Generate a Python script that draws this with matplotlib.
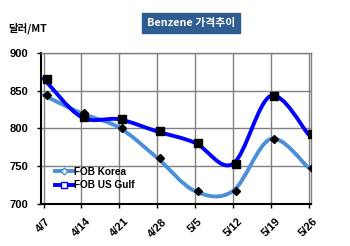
import matplotlib
matplotlib.use("Agg")
import matplotlib.pyplot as plt
from matplotlib.path import Path
from matplotlib.patches import PathPatch
from matplotlib.lines import Line2D
from matplotlib.font_manager import FontProperties, fontManager
import matplotlib.transforms as mtrans
import numpy as np

dates = ["4/7", "4/14", "4/21", "4/28", "5/5", "5/12", "5/19", "5/26"]
fob_korea = [844, 820, 801, 761, 717, 717, 786, 748]
fob_usgulf = [866, 815, 812, 796, 781, 753, 843, 792]
yticks = [700, 750, 800, 850, 900]

KOREA_C = "#4A90D9"
GULF_C = "#0000FF"

_bold_file = None
for f in fontManager.ttflist:
    if f.name == "Liberation Sans" and "Narrow" not in f.fname and "Bold" in f.fname and "Italic" not in f.fname:
        _bold_file = f.fname
        break


def fp(size):
    if _bold_file:
        return FontProperties(fname=_bold_file, size=size)
    return FontProperties(family="DejaVu Sans", weight="bold", size=size)


fig = plt.figure(figsize=(3.5, 2.46), dpi=100)
ax = fig.add_axes([0.117, 0.171, 0.772, 0.614])

x = np.arange(len(dates), dtype=float)


def smooth_path(xs, ys):
    pts = np.column_stack([xs, ys]).astype(float)
    n = len(pts)
    verts = [pts[0]]
    codes = [Path.MOVETO]
    for i in range(n - 1):
        p0 = pts[max(i - 1, 0)]
        p1 = pts[i]
        p2 = pts[i + 1]
        p3 = pts[min(i + 2, n - 1)]
        c1 = p1 + (p2 - p0) / 6.0
        c2 = p2 - (p3 - p1) / 6.0
        verts += [c1, c2, p2]
        codes += [Path.CURVE4] * 3
    return Path(verts, codes)


ax.add_patch(PathPatch(smooth_path(x, fob_korea), fill=False, edgecolor=KOREA_C,
                       lw=2.8, capstyle="round", joinstyle="round", zorder=3))
ax.add_patch(PathPatch(smooth_path(x, fob_usgulf), fill=False, edgecolor=GULF_C,
                       lw=2.8, capstyle="round", joinstyle="round", zorder=4))
ax.plot(x + 0.08, fob_korea, linestyle="none", marker="D", ms=4.5, color="black", zorder=5)
ax.plot(x + 0.08, fob_usgulf, linestyle="none", marker="s", ms=6, color="black", zorder=5)

ax.set_xlim(-0.07, 7.07)
ax.set_ylim(700, 900)
ax.set_xticks(x)
ax.set_xticklabels(dates, rotation=45, ha="center", fontproperties=fp(8))
offset = mtrans.ScaledTranslation(-3 / 100, 0, fig.dpi_scale_trans)
for lab in ax.get_xticklabels():
    lab.set_transform(lab.get_transform() + offset)
ax.set_yticks(yticks)
ax.set_yticklabels([str(v) for v in yticks], fontproperties=fp(8))
ax.tick_params(axis="both", length=3, width=1, direction="out")
ax.tick_params(axis="x", pad=6)
ax.tick_params(axis="y", pad=6)
ax.grid(True, color="#808080", lw=1)
ax.set_axisbelow(True)
for s in ["top", "right"]:
    ax.spines[s].set_color("#808080")
    ax.spines[s].set_linewidth(1)
for s in ["left", "bottom"]:
    ax.spines[s].set_color("black")
    ax.spines[s].set_linewidth(1.5)

handles = [
    Line2D([], [], color=KOREA_C, lw=2.8, marker="D", ms=3.5, mfc="white", mec=KOREA_C),
    Line2D([], [], color=GULF_C, lw=2.8, marker="s", ms=4.5, mfc="white", mec=GULF_C),
]
ax.legend(handles, ["FOB Korea", "FOB US Gulf"], loc="lower left",
          bbox_to_anchor=(0.02, 0.03), frameon=False, handlelength=1.8,
          handletextpad=0.1, labelspacing=0.35, prop=fp(7.2))

fig.text(0.545, 0.907, "Benzene 가격추이", ha="center", va="center", color="white",
         fontsize=7.8, fontweight="bold", family=["Noto Sans CJK KR", "DejaVu Sans"],
         bbox=dict(boxstyle="square,pad=0.45", fc="#2F5C91", ec="#2F5C91"))
fig.text(0.023, 0.885, "달러/MT", ha="left", va="center", color="black",
         fontsize=7.5, fontweight="bold", family=["Noto Sans CJK KR", "DejaVu Sans"])

fig.savefig("out.png", dpi=100)
